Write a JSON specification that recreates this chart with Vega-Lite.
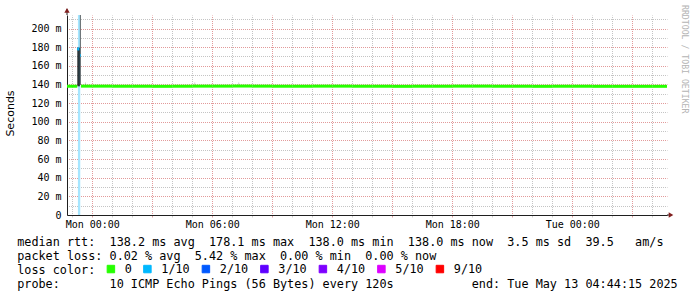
{
  "$schema": "https://vega.github.io/schema/vega-lite/v6.json",
  "width": 600,
  "height": 200,
  "autosize": {"type": "none"},
  "padding": {"left": 67, "top": 15, "right": 30, "bottom": 82},
  "background": "white",
  "config": {
    "view": {"stroke": null},
    "font": "DejaVu Sans Mono",
    "axisY": {
      "labelFont": "DejaVu Sans Mono",
      "labelFontSize": 10,
      "labelColor": "black",
      "labelPadding": 6,
      "labelOverlap": false,
      "labelFlush": false,
      "labelExpr": "datum.value % 20 == 0 ? (datum.value == 0 ? '0' : datum.value + ' m') : ''",
      "ticks": false,
      "grid": true,
      "gridColor": {"condition": {"test": "datum.value % 20 == 0", "value": "#e29a9a"}, "value": "#c4c4c4"},
      "gridDash": [1, 1],
      "gridDashOffset": 0.5,
      "gridWidth": 1,
      "domainColor": "#1f1f1f",
      "domainWidth": 1,
      "titleFont": "DejaVu Sans",
      "titleFontSize": 11,
      "titleFontWeight": "normal",
      "titleColor": "black",
      "titleX": -57,
      "titleY": 98,
      "titleAlign": "center",
      "titleBaseline": "middle",
      "titleAngle": 270
    }
  },
  "title": {
    "text": "RRDTOOL / TOBI OETIKER",
    "orient": "right",
    "anchor": "start",
    "frame": "group",
    "font": "DejaVu Sans Mono",
    "fontSize": 8.2,
    "fontWeight": "normal",
    "color": "#b4b4b4",
    "offset": 3,
    "dx": -10
  },
  "datasets": {
    "band": [
      {"t": "2025-05-11T23:17:00Z", "t2": "2025-05-11T23:24:00Z", "loss": "1/10"}
    ],
    "smoke": [
      {"t": "2025-05-11T23:15:00Z", "t2": "2025-05-11T23:23:00Z", "v": 138.0, "v2": 179.5, "d": 0.76},
      {"t": "2025-05-11T23:23:00Z", "t2": "2025-05-11T23:25:00Z", "v": 139.5, "v2": 260.0, "d": 0.9},
      {"t": "2025-05-11T23:38:00Z", "t2": "2025-05-11T23:41:00Z", "v": 139.5, "v2": 142.0, "d": 0.2},
      {"t": "2025-05-12T05:06:00Z", "t2": "2025-05-12T05:09:00Z", "v": 139.5, "v2": 142.0, "d": 0.2},
      {"t": "2025-05-12T07:18:00Z", "t2": "2025-05-12T07:21:00Z", "v": 139.5, "v2": 142.0, "d": 0.2}
    ],
    "median": [
      {"t": "2025-05-11T22:44:15Z", "t2": "2025-05-11T23:15:00Z", "v": 138.1, "loss": "0"},
      {"t": "2025-05-11T23:15:00Z", "t2": "2025-05-11T23:21:00Z", "v": 178.1, "loss": "1/10"},
      {"t": "2025-05-11T23:24:00Z", "t2": "2025-05-11T23:26:00Z", "v": 171.0, "loss": "1/10"},
      {"t": "2025-05-11T23:26:00Z", "t2": "2025-05-12T00:00:00Z", "v": 138.2, "loss": "0"},
      {"t": "2025-05-12T00:00:00Z", "t2": "2025-05-12T01:00:00Z", "v": 138.2, "loss": "0"},
      {"t": "2025-05-12T01:00:00Z", "t2": "2025-05-12T02:00:00Z", "v": 138.1, "loss": "0"},
      {"t": "2025-05-12T02:00:00Z", "t2": "2025-05-12T03:00:00Z", "v": 138.1, "loss": "0"},
      {"t": "2025-05-12T03:00:00Z", "t2": "2025-05-12T04:00:00Z", "v": 138.0, "loss": "0"},
      {"t": "2025-05-12T04:00:00Z", "t2": "2025-05-12T05:00:00Z", "v": 138.1, "loss": "0"},
      {"t": "2025-05-12T05:00:00Z", "t2": "2025-05-12T06:00:00Z", "v": 138.2, "loss": "0"},
      {"t": "2025-05-12T06:00:00Z", "t2": "2025-05-12T07:00:00Z", "v": 138.2, "loss": "0"},
      {"t": "2025-05-12T07:00:00Z", "t2": "2025-05-12T08:00:00Z", "v": 138.3, "loss": "0"},
      {"t": "2025-05-12T08:00:00Z", "t2": "2025-05-12T09:00:00Z", "v": 138.2, "loss": "0"},
      {"t": "2025-05-12T09:00:00Z", "t2": "2025-05-12T10:00:00Z", "v": 138.1, "loss": "0"},
      {"t": "2025-05-12T10:00:00Z", "t2": "2025-05-12T11:00:00Z", "v": 138.1, "loss": "0"},
      {"t": "2025-05-12T11:00:00Z", "t2": "2025-05-12T12:00:00Z", "v": 138.2, "loss": "0"},
      {"t": "2025-05-12T12:00:00Z", "t2": "2025-05-12T13:00:00Z", "v": 138.2, "loss": "0"},
      {"t": "2025-05-12T13:00:00Z", "t2": "2025-05-12T14:00:00Z", "v": 138.1, "loss": "0"},
      {"t": "2025-05-12T14:00:00Z", "t2": "2025-05-12T15:00:00Z", "v": 138.1, "loss": "0"},
      {"t": "2025-05-12T15:00:00Z", "t2": "2025-05-12T16:00:00Z", "v": 138.0, "loss": "0"},
      {"t": "2025-05-12T16:00:00Z", "t2": "2025-05-12T17:00:00Z", "v": 138.1, "loss": "0"},
      {"t": "2025-05-12T17:00:00Z", "t2": "2025-05-12T18:00:00Z", "v": 138.1, "loss": "0"},
      {"t": "2025-05-12T18:00:00Z", "t2": "2025-05-12T19:00:00Z", "v": 138.2, "loss": "0"},
      {"t": "2025-05-12T19:00:00Z", "t2": "2025-05-12T20:00:00Z", "v": 138.2, "loss": "0"},
      {"t": "2025-05-12T20:00:00Z", "t2": "2025-05-12T21:00:00Z", "v": 138.1, "loss": "0"},
      {"t": "2025-05-12T21:00:00Z", "t2": "2025-05-12T22:00:00Z", "v": 138.1, "loss": "0"},
      {"t": "2025-05-12T22:00:00Z", "t2": "2025-05-12T23:00:00Z", "v": 138.0, "loss": "0"},
      {"t": "2025-05-12T23:00:00Z", "t2": "2025-05-13T00:00:00Z", "v": 138.1, "loss": "0"},
      {"t": "2025-05-13T00:00:00Z", "t2": "2025-05-13T01:00:00Z", "v": 138.1, "loss": "0"},
      {"t": "2025-05-13T01:00:00Z", "t2": "2025-05-13T02:00:00Z", "v": 138.0, "loss": "0"},
      {"t": "2025-05-13T02:00:00Z", "t2": "2025-05-13T03:00:00Z", "v": 138.0, "loss": "0"},
      {"t": "2025-05-13T03:00:00Z", "t2": "2025-05-13T04:00:00Z", "v": 138.0, "loss": "0"},
      {"t": "2025-05-13T04:00:00Z", "t2": "2025-05-13T04:44:15Z", "v": 138.0, "loss": "0"}
    ],
    "yext": [
      {"t": "2025-05-11T22:44:15Z", "v": 214.5, "v2": 221.0}
    ],
    "xext": [
      {"t": "2025-05-13T04:44:15Z", "t2": "2025-05-13T04:53:00Z", "v": 0}
    ],
    "uparrow": [
      {"t": "2025-05-11T22:44:15Z", "v": 219.5}
    ],
    "rightarrow": [
      {"t": "2025-05-13T04:56:15Z", "v": 0}
    ]
  },
  "encoding": {
    "x": {
      "field": "t",
      "type": "temporal",
      "scale": {
        "type": "utc",
        "domain": [1747003455000, 1747111455000],
        "nice": false
      },
      "axis": {
        "values": [1747004400000, 1747008000000, 1747011600000, 1747015200000, 1747018800000, 1747022400000, 1747026000000, 1747029600000, 1747033200000, 1747036800000, 1747040400000, 1747044000000, 1747047600000, 1747051200000, 1747054800000, 1747058400000, 1747062000000, 1747065600000, 1747069200000, 1747072800000, 1747076400000, 1747080000000, 1747083600000, 1747087200000, 1747090800000, 1747094400000, 1747098000000, 1747101600000, 1747105200000, 1747108800000],
        "labelExpr": "utchours(datum.value) % 6 == 0 ? utcFormat(datum.value, '%a %H:%M') : ''",
        "labelFont": "DejaVu Sans Mono",
        "labelFontSize": 10,
        "labelColor": "black",
        "labelAngle": 0,
        "labelPadding": 2,
        "labelOverlap": false,
        "labelFlush": false,
        "ticks": true,
        "tickSize": 2,
        "tickColor": {"condition": {"test": "utchours(datum.value) % 3 == 0", "value": "#e0a0a0"}, "value": "#d0d0d0"},
        "grid": true,
        "gridColor": {"condition": {"test": "utchours(datum.value) % 3 == 0", "value": "#e29a9a"}, "value": "#c4c4c4"},
        "gridDash": [1, 1],
        "gridDashOffset": 0.5,
        "gridWidth": 1,
        "domainColor": "#1f1f1f",
        "domainWidth": 1,
        "title": [
          "median rtt:\u00a0\u00a0138.2 ms avg\u00a0\u00a0178.1 ms max\u00a0\u00a0138.0 ms min\u00a0\u00a0138.0 ms now\u00a0\u00a03.5 ms sd\u00a0\u00a039.5\u00a0\u00a0\u00a0am/s",
          "packet loss: 0.02 % avg\u00a0\u00a05.42 % max\u00a0\u00a00.00 % min\u00a0\u00a00.00 % now",
          "loss color:",
          "probe:\u00a0\u00a0\u00a0\u00a0\u00a0\u00a0\u00a010 ICMP Echo Pings (56 Bytes) every 120s\u00a0\u00a0\u00a0\u00a0\u00a0\u00a0\u00a0\u00a0\u00a0\u00a0\u00a0end: Tue May 13 04:44:15 2025"
        ],
        "titleFont": "DejaVu Sans Mono",
        "titleFontSize": 11.8,
        "titleFontWeight": "normal",
        "titleColor": "black",
        "titleAnchor": "start",
        "titleAlign": "left",
        "titleBaseline": "alphabetic",
        "titleX": -50.3,
        "titleY": 30,
        "titleLineHeight": 14
      }
    }
  },
  "layer": [
    {
      "data": {"name": "band"},
      "mark": {"type": "rect", "color": "#a6e6ff"},
      "encoding": {
        "x2": {"field": "t2"}
      }
    },
    {
      "data": {"name": "smoke"},
      "mark": {"type": "rect", "color": "black", "clip": true},
      "encoding": {
        "x2": {"field": "t2"},
        "y": {
          "field": "v",
          "type": "quantitative",
          "scale": {"domain": [0, 214.5], "nice": false, "zero": true},
          "axis": {
            "values": [0, 10, 20, 30, 40, 50, 60, 70, 80, 90, 100, 110, 120, 130, 140, 150, 160, 170, 180, 190, 200, 210],
            "labelOverlap": false,
            "title": "Seconds"
          }
        },
        "y2": {"field": "v2"},
        "opacity": {"field": "d", "type": "quantitative", "scale": {"domain": [0, 1], "range": [0, 1]}, "legend": null}
      }
    },
    {
      "data": {"name": "median"},
      "mark": {"type": "rule", "strokeWidth": 3},
      "encoding": {
        "x2": {"field": "t2"},
        "y": {"field": "v", "type": "quantitative", "axis": {"values": [0, 10, 20, 30, 40, 50, 60, 70, 80, 90, 100, 110, 120, 130, 140, 150, 160, 170, 180, 190, 200, 210], "labelOverlap": false, "title": "Seconds"}},
        "color": {
          "field": "loss",
          "type": "nominal",
          "scale": {
            "domain": ["0", "1/10", "2/10", "3/10", "4/10", "5/10", "9/10"],
            "range": ["#26ff00", "#00b8ff", "#0059ff", "#5e00ff", "#7e00ff", "#dd00ff", "#ff0000"]
          },
          "legend": {
            "orient": "none",
            "legendX": 38,
            "legendY": 248,
            "direction": "horizontal",
            "title": null,
            "padding": 0,
            "symbolType": "square",
            "symbolSize": 56,
            "symbolStrokeColor": "black",
            "symbolStrokeWidth": 1,
            "labelFont": "DejaVu Sans Mono",
            "labelFontSize": 11.8,
            "labelColor": "black",
            "labelOffset": 8,
            "columnPadding": 9.5,
            "encode": {
              "symbols": {
                "update": {
                  "fill": {"scale": "color", "field": "value"},
                  "stroke": {"value": "black"},
                  "strokeWidth": {"value": 1},
                  "opacity": {"value": 1}
                }
              }
            }
          }
        }
      }
    },
    {
      "data": {"name": "yext"},
      "mark": {"type": "rule", "color": "#1f1f1f", "clip": false},
      "encoding": {
        "y": {"field": "v", "type": "quantitative", "axis": {"values": [0, 10, 20, 30, 40, 50, 60, 70, 80, 90, 100, 110, 120, 130, 140, 150, 160, 170, 180, 190, 200, 210], "labelOverlap": false, "title": "Seconds"}},
        "y2": {"field": "v2"}
      }
    },
    {
      "data": {"name": "xext"},
      "mark": {"type": "rule", "color": "#1f1f1f", "clip": false},
      "encoding": {
        "x2": {"field": "t2"},
        "y": {"field": "v", "type": "quantitative", "axis": {"values": [0, 10, 20, 30, 40, 50, 60, 70, 80, 90, 100, 110, 120, 130, 140, 150, 160, 170, 180, 190, 200, 210], "labelOverlap": false, "title": "Seconds"}}
      }
    },
    {
      "data": {"name": "uparrow"},
      "mark": {"type": "point", "shape": "triangle-up", "filled": true, "color": "#801f1f", "size": 28, "opacity": 1, "clip": false},
      "encoding": {
        "y": {"field": "v", "type": "quantitative", "axis": {"values": [0, 10, 20, 30, 40, 50, 60, 70, 80, 90, 100, 110, 120, 130, 140, 150, 160, 170, 180, 190, 200, 210], "labelOverlap": false, "title": "Seconds"}}
      }
    },
    {
      "data": {"name": "rightarrow"},
      "mark": {"type": "point", "shape": "triangle-right", "filled": true, "color": "#801f1f", "size": 28, "opacity": 1, "clip": false},
      "encoding": {
        "y": {"field": "v", "type": "quantitative", "axis": {"values": [0, 10, 20, 30, 40, 50, 60, 70, 80, 90, 100, 110, 120, 130, 140, 150, 160, 170, 180, 190, 200, 210], "labelOverlap": false, "title": "Seconds"}}
      }
    }
  ]
}
